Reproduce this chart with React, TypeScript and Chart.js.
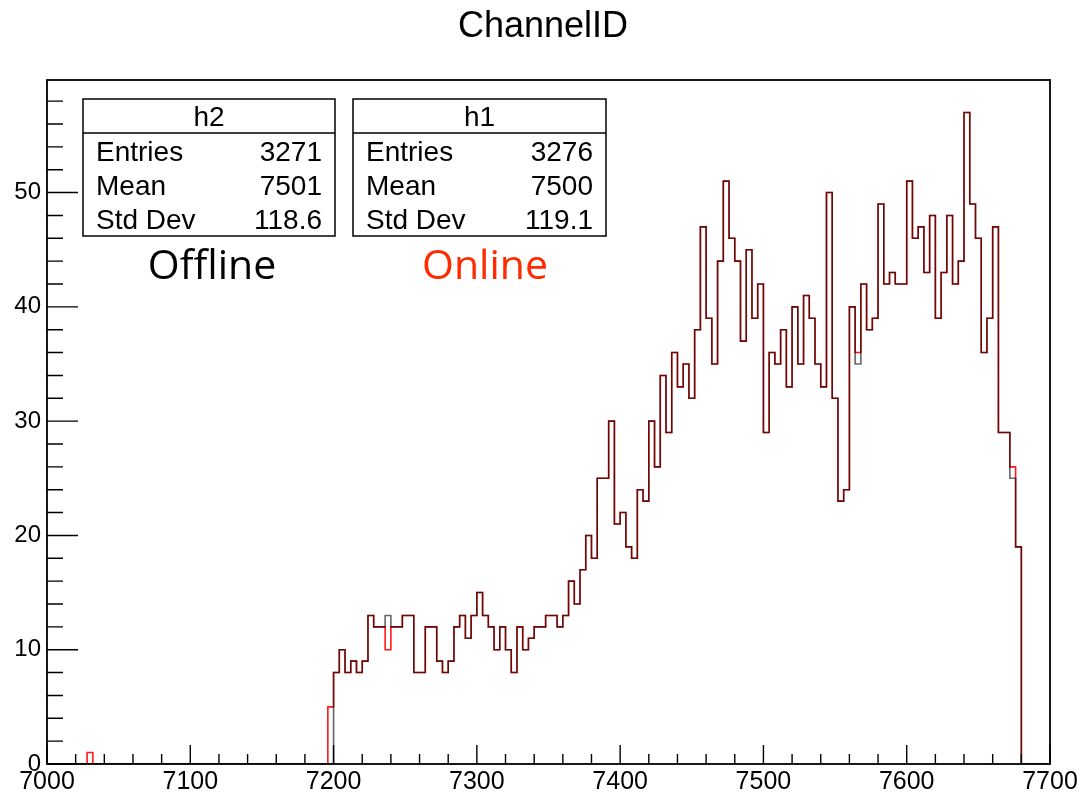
import React, { useEffect, useRef } from "react";
import { Chart, registerables } from "chart.js";

Chart.register(...registerables);

const chartTitle = "ChannelID";
const X_MIN = 7000;
const X_MAX = 7700;
const BIN_WIDTH = 4;
const Y_MAX = 59.85;
const xTickValues = [7000, 7100, 7200, 7300, 7400, 7500, 7600, 7700];
const yTickValues = [0, 10, 20, 30, 40, 50];

// left edge of the first listed bin; each entry is one 4-wide bin
const firstBinEdge = 7196;
const offlineCounts = [
  0,
  8, 10, 8, 9, 8, 9, 13, 12, 12, 13,
  12, 12, 13, 13, 8, 8, 12, 12, 9, 8,
  9, 12, 13, 11, 13, 15, 13, 12, 10, 12,
  10, 8, 12, 10, 11, 12, 12, 13, 13, 12,
  13, 16, 14, 17, 20, 18, 25, 25, 30, 21,
  22, 19, 18, 24, 23, 30, 26, 34, 29, 36,
  33, 35, 32, 38, 47, 39, 35, 44, 51, 46,
  44, 37, 45, 39, 42, 29, 36, 35, 38, 33,
  40, 35, 41, 39, 35, 33, 50, 32, 23, 24,
  40, 35, 42, 38, 39, 49, 42, 43, 42, 42,
  51, 46, 47, 43, 48, 39, 43, 48, 42, 44,
  57, 49, 46, 36, 39, 47, 29, 29, 25, 19,
];
const onlineCounts = [
  5,
  8, 10, 8, 9, 8, 9, 13, 12, 12, 10,
  12, 12, 13, 13, 8, 8, 12, 12, 9, 8,
  9, 12, 13, 11, 13, 15, 13, 12, 10, 12,
  10, 8, 12, 10, 11, 12, 12, 13, 13, 12,
  13, 16, 14, 17, 20, 18, 25, 25, 30, 21,
  22, 19, 18, 24, 23, 30, 26, 34, 29, 36,
  33, 35, 32, 38, 47, 39, 35, 44, 51, 46,
  44, 37, 45, 39, 42, 29, 36, 35, 38, 33,
  40, 35, 41, 39, 35, 33, 50, 32, 23, 24,
  40, 36, 42, 38, 39, 49, 42, 43, 42, 42,
  51, 46, 47, 43, 48, 39, 43, 48, 42, 44,
  57, 49, 46, 36, 39, 47, 29, 29, 26, 19,
];
const onlineStrayEdges = [7028];
const onlineStrayCounts = [1];

const statLabels = ["Entries", "Mean", "Std Dev"];
const offlineName = "h2";
const offlineStats = ["3271", "7501", "118.6"];
const onlineName = "h1";
const onlineStats = ["3276", "7500", "119.1"];
const offlineTag = "Offline";
const onlineTag = "Online";

const FONT = "'Liberation Sans', Arial, Helvetica, sans-serif";

function buildSteps(edges: number[], counts: number[]) {
  const byEdge = new Map<number, number>();
  edges.forEach((e, i) => byEdge.set(e, counts[i]));
  const pts: { x: number; y: number }[] = [];
  for (let e = X_MIN; e < X_MAX; e += BIN_WIDTH) {
    pts.push({ x: e, y: byEdge.get(e) ?? 0 });
  }
  pts.push({ x: X_MAX, y: 0 });
  return pts;
}

const mainEdges = offlineCounts.map((_, i) => firstBinEdge + i * BIN_WIDTH);
const offlinePts = buildSteps(mainEdges, offlineCounts);
const onlinePts = buildSteps(
  [...onlineStrayEdges, ...mainEdges],
  [...onlineStrayCounts, ...onlineCounts]
);

function drawStatBox(
  ctx: CanvasRenderingContext2D,
  left: number,
  top: number,
  width: number,
  height: number,
  name: string,
  values: string[]
) {
  ctx.fillStyle = "#fff";
  ctx.fillRect(left, top, width, height);
  ctx.strokeStyle = "#000";
  ctx.lineWidth = 1.5;
  ctx.strokeRect(left, top, width, height);
  ctx.beginPath();
  ctx.moveTo(left, top + 34);
  ctx.lineTo(left + width, top + 34);
  ctx.stroke();
  ctx.fillStyle = "#000";
  ctx.font = `28px ${FONT}`;
  ctx.textBaseline = "alphabetic";
  ctx.textAlign = "center";
  ctx.fillText(name, left + width / 2, top + 27);
  statLabels.forEach((lab, i) => {
    const base = top + 62 + i * 34;
    ctx.textAlign = "left";
    ctx.fillText(lab, left + 13, base);
    ctx.textAlign = "right";
    ctx.fillText(values[i], left + width - 13, base);
  });
}

const decorPlugin = {
  id: "rootDecor",
  afterDraw(chart: any) {
    const { ctx, chartArea, scales } = chart;
    const { left, right, top, bottom } = chartArea;
    const xs = scales.x;
    const ys = scales.y;
    ctx.save();
    ctx.strokeStyle = "#000";
    ctx.lineWidth = 1.8;
    ctx.strokeRect(left, top, right - left, bottom - top);

    ctx.lineWidth = 1.4;
    ctx.beginPath();
    for (let v = X_MIN; v <= X_MAX; v += 20) {
      const px = xs.getPixelForValue(v);
      const len = v % 100 === 0 ? 19 : 10;
      ctx.moveTo(px, bottom);
      ctx.lineTo(px, bottom - len);
    }
    for (let v = 0; v <= Y_MAX; v += 2) {
      const py = ys.getPixelForValue(v);
      const len = v % 10 === 0 ? 31 : 16;
      ctx.moveTo(left, py);
      ctx.lineTo(left + len, py);
    }
    ctx.stroke();

    ctx.fillStyle = "#000";
    ctx.font = `36px ${FONT}`;
    ctx.textAlign = "center";
    ctx.textBaseline = "alphabetic";
    ctx.fillText(chartTitle, 543, 37);

    drawStatBox(ctx, 83, 99, 252, 137, offlineName, offlineStats);
    drawStatBox(ctx, 353, 99, 253, 137, onlineName, onlineStats);

    ctx.font = `41px 'Open Sans', 'Noto Sans', sans-serif`;
    ctx.textAlign = "center";
    ctx.textBaseline = "alphabetic";
    ctx.fillStyle = "#000";
    ctx.fillText(offlineTag, 212, 279);
    ctx.fillStyle = "#ff2a00";
    ctx.fillText(onlineTag, 485, 279);
    ctx.restore();
  },
};

export default function App() {
  const canvasRef = useRef<HTMLCanvasElement | null>(null);

  useEffect(() => {
    const canvas = canvasRef.current;
    if (!canvas) return;
    const chart = new Chart(canvas, {
      type: "line",
      data: {
        datasets: [
          {
            label: offlineName,
            data: offlinePts,
            borderColor: "rgba(0,0,0,0.6)",
            borderWidth: 1.6,
            pointRadius: 0,
            stepped: "before",
            fill: false,
          },
          {
            label: onlineName,
            data: onlinePts,
            borderColor: "rgba(255,0,0,0.9)",
            borderWidth: 1.6,
            pointRadius: 0,
            stepped: "before",
            fill: false,
          },
        ],
      },
      options: {
        responsive: false,
        animation: false,
        layout: { padding: { top: 80, right: 31, left: 0, bottom: 0 } },
        plugins: {
          legend: { display: false },
          tooltip: { enabled: false },
          title: { display: false },
        },
        scales: {
          x: {
            type: "linear",
            min: X_MIN,
            max: X_MAX,
            afterBuildTicks: (s: any) => {
              s.ticks = xTickValues.map((v) => ({ value: v }));
            },
            afterFit: (s: any) => {
              s.height = 31;
            },
            grid: { display: false, drawTicks: false },
            border: { display: false },
            ticks: {
              color: "#000",
              font: { family: FONT, size: 25 },
              padding: 3,
              maxRotation: 0,
              autoSkip: false,
              callback: (v: any) => String(v),
            },
          },
          y: {
            type: "linear",
            min: 0,
            max: Y_MAX,
            afterBuildTicks: (s: any) => {
              s.ticks = yTickValues.map((v) => ({ value: v }));
            },
            afterFit: (s: any) => {
              s.width = 47;
            },
            grid: { display: false, drawTicks: false },
            border: { display: false },
            ticks: {
              color: "#000",
              font: { family: FONT, size: 24 },
              padding: 6,
              autoSkip: false,
              callback: (v: any) => String(v),
            },
          },
        },
      },
      plugins: [decorPlugin],
    });
    return () => chart.destroy();
  }, []);

  return (
    <div
      style={{
        position: "absolute",
        left: 0,
        top: 0,
        width: 1081,
        height: 795,
        background: "#fff",
      }}
    >
      <canvas ref={canvasRef} width={1081} height={795} style={{ width: 1081, height: 795 }} />
    </div>
  );
}
